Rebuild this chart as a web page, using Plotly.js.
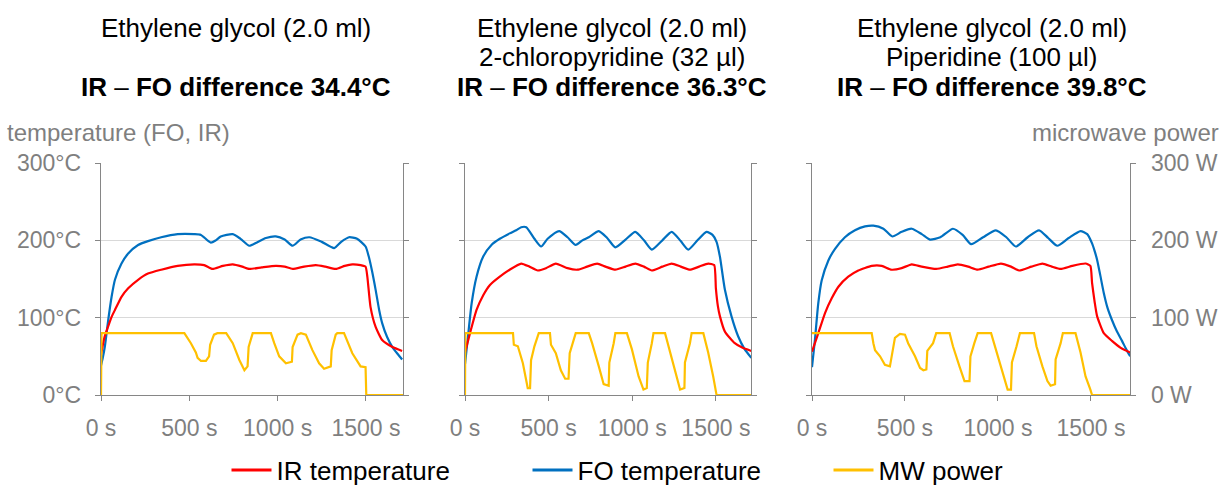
<!DOCTYPE html>
<html><head><meta charset="utf-8">
<script src="https://cdn.plot.ly/plotly-3.0.1.min.js"></script>
<style>body{margin:0;background:#fff}#chart{width:1226px;height:486px}</style>
</head><body><div id="chart"></div>
<script>
// ---- Panel 1: Ethylene glycol ----
const tIR1 = [0, 20, 41, 60, 79, 116, 154, 210, 266, 341, 434, 528, 584, 631, 690, 746, 800, 840, 910, 990, 1040, 1085, 1150, 1216, 1270, 1329, 1380, 1423, 1470, 1498, 1508, 1526, 1555, 1592, 1650, 1705];
const IR1  = [52, 75, 89, 101, 110, 127, 138, 149, 157, 162, 167, 169, 168, 163, 167, 169, 166, 163, 165, 167, 166, 163, 166, 168, 166, 163, 167, 169, 168, 166, 153, 114, 88, 71, 62, 57];
const tFO1 = [0, 10, 22, 41, 60, 79, 116, 154, 210, 266, 341, 434, 528, 566, 622, 650, 678, 746, 790, 840, 880, 934, 990, 1040, 1085, 1130, 1180, 1250, 1320, 1360, 1404, 1450, 1498, 1515, 1535, 1555, 1575, 1592, 1620, 1650, 1680, 1705];
const FO1  = [38, 48, 63, 97, 127, 149, 170, 183, 194, 199, 204, 208, 208, 207, 197, 200, 205, 208, 202, 193, 197, 203, 205, 201, 193, 201, 204, 198, 190, 198, 204, 202, 192, 180, 160, 136, 110, 93, 75, 62, 53, 46];
const tMW1 = [0, 3, 472, 509, 537, 547, 566, 594, 612, 618, 640, 659, 709, 746, 784, 812, 830, 836, 859, 962, 981, 1009, 1047, 1081, 1085, 1113, 1132, 1160, 1197, 1235, 1263, 1301, 1306, 1329, 1338, 1376, 1423, 1470, 1498, 1502, 1710];
const MW1  = [0, 80, 80, 67, 55, 48, 44, 44, 50, 65, 78, 80, 80, 67, 45, 32, 37, 62, 80, 80, 67, 50, 41, 43, 62, 78, 80, 78, 58, 41, 34, 37, 58, 78, 80, 80, 54, 37, 36, 0, 0];

// ---- Panel 2: Ethylene glycol + 2-chloropyridine ----
const tIR2 = [0, 30, 69, 109, 148, 208, 267, 336, 385, 435, 484, 543, 613, 672, 730, 790, 840, 899, 960, 1018, 1070, 1117, 1180, 1236, 1290, 1345, 1400, 1454, 1490, 1500, 1512, 1524, 1554, 1613, 1660, 1712];
const IR2  = [55, 80, 110, 129, 142, 153, 162, 170, 166, 161, 164, 170, 164, 162, 166, 170, 166, 162, 166, 170, 166, 161, 166, 170, 166, 162, 166, 170, 168, 138, 115, 102, 82, 67, 61, 57];
const tFO2 = [0, 20, 40, 69, 109, 158, 208, 267, 306, 336, 366, 415, 455, 494, 563, 613, 662, 702, 740, 800, 850, 899, 960, 1018, 1070, 1117, 1180, 1236, 1290, 1335, 1390, 1444, 1480, 1504, 1524, 1554, 1593, 1633, 1670, 1712];
const FO2  = [40, 80, 119, 153, 179, 194, 202, 209, 213, 217, 217, 202, 192, 202, 212, 204, 194, 200, 204, 212, 203, 191, 201, 211, 200, 188, 200, 211, 199, 188, 200, 211, 207, 198, 179, 136, 102, 76, 60, 48];
const tMW2 = [0, 2, 287, 292, 316, 346, 366, 375, 389, 395, 415, 435, 441, 508, 514, 543, 573, 599, 619, 626, 652, 662, 740, 760, 800, 829, 859, 863, 889, 899, 968, 998, 1038, 1067, 1087, 1093, 1117, 1127, 1196, 1216, 1256, 1286, 1312, 1315, 1345, 1355, 1425, 1454, 1484, 1498, 1504, 1712];
const MW2  = [0, 80, 80, 65, 63, 41, 19, 9, 9, 45, 63, 78, 80, 80, 65, 54, 32, 21, 21, 54, 71, 80, 80, 67, 37, 14, 12, 42, 67, 80, 80, 59, 24, 7, 9, 42, 67, 80, 80, 63, 29, 7, 9, 42, 67, 80, 80, 55, 24, 9, 0, 0];

// ---- Panel 3: Ethylene glycol + piperidine ----
const tIR3 = [0, 34, 70, 106, 142, 195, 249, 321, 375, 428, 482, 536, 590, 668, 730, 784, 840, 891, 950, 1016, 1070, 1114, 1180, 1239, 1290, 1337, 1400, 1471, 1497, 1506, 1520, 1533, 1569, 1613, 1660, 1711];
const IR3  = [56, 80, 106, 125, 140, 153, 161, 167, 167, 162, 164, 169, 166, 163, 166, 169, 166, 162, 166, 170, 166, 161, 166, 170, 166, 163, 167, 170, 167, 145, 120, 102, 80, 70, 61, 55];
const tFO3 = [0, 16, 34, 52, 88, 124, 177, 231, 285, 330, 384, 432, 482, 536, 590, 634, 690, 758, 810, 856, 920, 989, 1045, 1096, 1160, 1221, 1270, 1319, 1380, 1444, 1480, 1506, 1520, 1533, 1550, 1569, 1590, 1613, 1640, 1667, 1690, 1711];
const FO3  = [36, 72, 119, 148, 174, 189, 204, 213, 218, 219, 215, 205, 211, 215, 208, 201, 204, 215, 207, 195, 204, 213, 204, 192, 204, 213, 203, 193, 203, 212, 208, 196, 186, 175, 155, 132, 112, 97, 82, 70, 59, 50];
const tMW3 = [0, 321, 330, 339, 366, 392, 419, 432, 446, 473, 500, 517, 554, 581, 599, 615, 620, 651, 668, 740, 758, 793, 820, 847, 852, 873, 891, 963, 989, 1025, 1052, 1070, 1075, 1100, 1118, 1194, 1207, 1239, 1266, 1283, 1307, 1310, 1337, 1349, 1417, 1444, 1471, 1497, 1506, 1711];
const MW3  = [80, 80, 67, 58, 50, 39, 37, 58, 74, 79, 78, 67, 50, 35, 32, 33, 57, 67, 80, 80, 63, 37, 18, 18, 50, 67, 80, 80, 59, 29, 7, 7, 42, 63, 80, 80, 63, 37, 18, 12, 14, 46, 67, 80, 80, 55, 24, 7, 0, 0];

// ---- Text ----
const titleLine1 = ["Ethylene glycol (2.0 ml)", "Ethylene glycol (2.0 ml)", "Ethylene glycol (2.0 ml)"];
const titleLine2 = ["", "2-chloropyridine (32 µl)", "Piperidine (100 µl)"];
const titleLine3 = ["34.4°C", "36.3°C", "39.8°C"];
const seriesNames = ["IR temperature", "FO temperature", "MW power"];
const xTicks = [0, 500, 1000, 1500];
const yTicks = [0, 100, 200, 300];
const leftAxisTitle = "temperature (FO, IR)";
const rightAxisTitle = "microwave power";

const RED = "#FF0000", BLUE = "#0070C0", YEL = "#FFC000";
const AX = "#868686", GRID = "#D9D9D9", TXT = "#7F7F7F";
const FONT = "Liberation Sans, Arial, sans-serif";

const panels = [
  {tIR: tIR1, IR: IR1, tFO: tFO1, FO: FO1, tMW: tMW1, MW: MW1},
  {tIR: tIR2, IR: IR2, tFO: tFO2, FO: FO2, tMW: tMW2, MW: MW2},
  {tIR: tIR3, IR: IR3, tFO: tFO3, FO: FO3, tMW: tMW3, MW: MW3}
];
const W = 1226;
const px = [[101, 403], [465, 751], [812, 1130]];
const titleCx = [236, 612, 992];
const plotTop = 163, plotBot = 395, plotH = plotBot - plotTop;
const py = p => (plotBot - p) / plotH;

const data = [];
const layout = {
  width: 1226, height: 486,
  margin: {l: 0, r: 0, t: plotTop, b: 486 - plotBot, pad: 0, autoexpand: false},
  paper_bgcolor: "#fff", plot_bgcolor: "rgba(0,0,0,0)",
  font: {family: FONT, size: 23, color: TXT},
  showlegend: true,
  legend: {orientation: "h", x: 0.5 + 65 / W, xanchor: "center", y: py(470), yanchor: "middle",
           font: {family: FONT, size: 26, color: "#000"}, entrywidth: 246, itemwidth: 40,
           bgcolor: "rgba(0,0,0,0)"},
  annotations: [], shapes: []
};

panels.forEach((p, i) => {
  const xa = i === 0 ? "x" : "x" + (i + 1);
  const yl = "y" + (i === 0 ? "" : (2 * i + 1));
  const yr = "y" + (2 * i + 2);
  const first = i === 0;
  data.push({x: p.tFO, y: p.FO, type: "scatter", mode: "lines", name: seriesNames[1], legendgroup: "fo",
             showlegend: false, xaxis: xa, yaxis: yl, line: {color: BLUE, width: 2.2, shape: "spline", smoothing: 0.6}});
  data.push({x: p.tIR, y: p.IR, type: "scatter", mode: "lines", name: seriesNames[0], legendgroup: "ir",
             showlegend: false, xaxis: xa, yaxis: yl, line: {color: RED, width: 2.2, shape: "spline", smoothing: 0.5}});
  data.push({x: p.tMW, y: p.MW, type: "scatter", mode: "lines", name: seriesNames[2], legendgroup: "mw",
             showlegend: false, xaxis: xa, yaxis: yr, line: {color: YEL, width: 2.2}});
  const dom = [px[i][0] / W, px[i][1] / W];
  const xkey = i === 0 ? "xaxis" : "xaxis" + (i + 1);
  const ylkey = "yaxis" + (i === 0 ? "" : (2 * i + 1));
  const yrkey = "yaxis" + (2 * i + 2);
  layout[xkey] = {domain: dom, anchor: yl, range: [0, 1710], tickvals: xTicks, ticktext: xTicks.map(v => v + " s"),
                  showgrid: false, zeroline: false, showline: true, linecolor: AX, linewidth: 1.3,
                  ticks: "outside", ticklen: 5, tickcolor: AX, tickfont: {size: 23, color: TXT},
                  ticklabelstandoff: 7, fixedrange: true};
  layout[ylkey] = {domain: [0, 1], anchor: xa, range: [0, 300], tickvals: yTicks, ticktext: yTicks.map(v => v + "°C"),
                   showticklabels: first, showgrid: true, gridcolor: GRID, gridwidth: 1.3, zeroline: false,
                   showline: true, linecolor: AX, linewidth: 1.3, ticks: "outside", ticklen: 5, tickcolor: AX,
                   tickfont: {size: 23, color: TXT}, ticklabelstandoff: 9, fixedrange: true};
  layout[yrkey] = {domain: [0, 1], anchor: xa, overlaying: yl, side: "right", range: [0, 300], tickvals: yTicks,
                   ticktext: yTicks.map(v => v + " W"), showticklabels: i === 2, showgrid: false, zeroline: false,
                   showline: true, linecolor: AX, linewidth: 1.3, ticks: "outside", ticklen: 5, tickcolor: AX,
                   tickfont: {size: 23, color: TXT}, ticklabelstandoff: 10, fixedrange: true};
  const cx = titleCx[i] / W;
  const l3 = "<b>IR </b>–<b> FO difference " + titleLine3[i] + "</b>";
  [[titleLine1[i], 28], [titleLine2[i], 57], [l3, 87]].forEach(([txt, yy]) => {
    if (!txt) return;
    layout.annotations.push({xref: "paper", yref: "paper", x: cx, y: py(yy), xanchor: "center", yanchor: "middle",
      showarrow: false, text: txt, font: {family: FONT, size: 26, color: "#000"}});
  });
});
// legend entries
const legendColors = [RED, BLUE, YEL];
seriesNames.forEach((n, k) => {
  data.push({x: [null], y: [null], type: "scatter", mode: "lines", name: n, xaxis: "x", yaxis: "y",
             legendgroup: ["ir", "fo", "mw"][k], showlegend: true, line: {color: legendColors[k], width: 3}});
});
layout.annotations.push({xref: "paper", yref: "paper", x: 5 / W, y: py(133), xanchor: "left", yanchor: "middle",
  showarrow: false, text: leftAxisTitle, font: {family: FONT, size: 24, color: TXT}});
layout.annotations.push({xref: "paper", yref: "paper", x: 1221 / W, y: py(133), xanchor: "right", yanchor: "middle",
  showarrow: false, text: rightAxisTitle, font: {family: FONT, size: 24, color: TXT}});

Plotly.newPlot("chart", data, layout, {staticPlot: true, displayModeBar: false});
</script>
</body></html>
